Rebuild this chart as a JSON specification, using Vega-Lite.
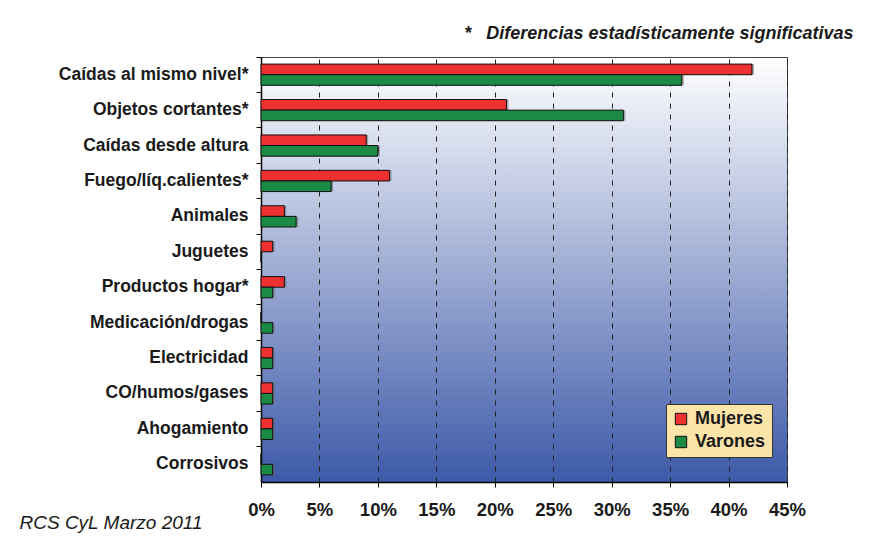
{
  "$schema": "https://vega.github.io/schema/vega-lite/v6.json",
  "autosize": {"type": "none"},
  "padding": {"left": 261, "top": 57, "right": 103, "bottom": 57},
  "width": 526,
  "height": 425,
  "background": "white",
  "title": {
    "text": "*\u00a0\u00a0\u00a0Diferencias estadísticamente significativas",
    "anchor": "end",
    "dx": 48,
    "offset": 14,
    "font": "Liberation Sans",
    "fontSize": 18,
    "fontWeight": "bold",
    "fontStyle": "italic",
    "color": "#1a1a1a"
  },
  "data": {
    "values": [
      {"cat": "Caídas al mismo nivel*", "sexo": "Mujeres", "pct": 0.42},
      {"cat": "Caídas al mismo nivel*", "sexo": "Varones", "pct": 0.36},
      {"cat": "Objetos cortantes*", "sexo": "Mujeres", "pct": 0.21},
      {"cat": "Objetos cortantes*", "sexo": "Varones", "pct": 0.31},
      {"cat": "Caídas desde altura", "sexo": "Mujeres", "pct": 0.09},
      {"cat": "Caídas desde altura", "sexo": "Varones", "pct": 0.10},
      {"cat": "Fuego/líq.calientes*", "sexo": "Mujeres", "pct": 0.11},
      {"cat": "Fuego/líq.calientes*", "sexo": "Varones", "pct": 0.06},
      {"cat": "Animales", "sexo": "Mujeres", "pct": 0.02},
      {"cat": "Animales", "sexo": "Varones", "pct": 0.03},
      {"cat": "Juguetes", "sexo": "Mujeres", "pct": 0.01},
      {"cat": "Juguetes", "sexo": "Varones", "pct": 0.0},
      {"cat": "Productos hogar*", "sexo": "Mujeres", "pct": 0.02},
      {"cat": "Productos hogar*", "sexo": "Varones", "pct": 0.01},
      {"cat": "Medicación/drogas", "sexo": "Mujeres", "pct": 0.0},
      {"cat": "Medicación/drogas", "sexo": "Varones", "pct": 0.01},
      {"cat": "Electricidad", "sexo": "Mujeres", "pct": 0.01},
      {"cat": "Electricidad", "sexo": "Varones", "pct": 0.01},
      {"cat": "CO/humos/gases", "sexo": "Mujeres", "pct": 0.01},
      {"cat": "CO/humos/gases", "sexo": "Varones", "pct": 0.01},
      {"cat": "Ahogamiento", "sexo": "Mujeres", "pct": 0.01},
      {"cat": "Ahogamiento", "sexo": "Varones", "pct": 0.01},
      {"cat": "Corrosivos", "sexo": "Mujeres", "pct": 0.0},
      {"cat": "Corrosivos", "sexo": "Varones", "pct": 0.01}
    ]
  },
  "encoding": {
    "y": {
      "field": "cat",
      "type": "nominal",
      "sort": null,
      "scale": {"paddingInner": 0, "paddingOuter": 0},
      "axis": {
        "title": null,
        "bandPosition": 0,
        "labelFont": "Liberation Sans",
        "labelFontSize": 17.5,
        "labelFontWeight": "bold",
        "labelColor": "#1a1a1a",
        "labelLimit": 0,
        "labelPadding": 8,
        "tickSize": 5,
        "tickColor": "#000",
        "domainColor": "#000",
        "domainWidth": 1.5,
        "grid": false
      }
    },
    "yOffset": {
      "field": "sexo",
      "type": "nominal",
      "scale": {"domain": ["Mujeres", "Varones"], "paddingInner": 0, "paddingOuter": 0.67}
    },
    "x": {
      "field": "pct",
      "type": "quantitative",
      "scale": {"domain": [0, 0.45], "nice": false},
      "axis": {
        "title": "RCS CyL Marzo 2011",
        "titleFont": "Liberation Sans",
        "titleFontSize": 19,
        "titleFontWeight": "normal",
        "titleFontStyle": "italic",
        "titleColor": "#1a1a1a",
        "titleAnchor": "start",
        "titleAlign": "left",
        "titleBaseline": "alphabetic",
        "titleX": -242,
        "titleY": 46,
        "format": ".0%",
        "values": [0, 0.05, 0.1, 0.15, 0.2, 0.25, 0.3, 0.35, 0.4, 0.45],
        "labelFlush": false,
        "labelFont": "Liberation Sans",
        "labelFontSize": 18.5,
        "labelFontWeight": "bold",
        "labelColor": "#1a1a1a",
        "labelPadding": 13,
        "tickSize": 5,
        "tickColor": "#000",
        "domainColor": "#000",
        "domainWidth": 1.5,
        "grid": true,
        "gridColor": "#222",
        "gridDash": [5, 6],
        "gridWidth": 1
      }
    }
  },
  "layer": [
    {
      "mark": {"type": "bar", "color": "#6a6a6a", "opacity": 0.55, "xOffset": 2, "yOffset": 2}
    },
    {
      "mark": {"type": "bar", "stroke": "#111", "strokeWidth": 1},
      "encoding": {
        "color": {
          "field": "sexo",
          "type": "nominal",
          "scale": {"domain": ["Mujeres", "Varones"], "range": ["#ee3030", "#1b8a45"]},
          "legend": {
            "title": null,
            "orient": "none",
            "legendX": 405,
            "legendY": 347,
            "padding": 6,
            "fillColor": "#fde4a8",
            "strokeColor": "#333",
            "symbolType": "square",
            "symbolSize": 130,
            "symbolStrokeColor": "#111",
            "symbolStrokeWidth": 1,
            "symbolOpacity": 1,
            "labelFont": "Liberation Sans",
            "labelFontSize": 18,
            "labelFontWeight": "bold",
            "labelColor": "#1a1a1a",
            "rowPadding": 5,
            "labelOffset": 5
          }
        }
      }
    }
  ],
  "config": {
    "view": {
      "stroke": "#444",
      "fill": {
        "gradient": "linear",
        "x1": 0, "y1": 0, "x2": 0, "y2": 1,
        "stops": [
          {"offset": 0, "color": "#ffffff"},
          {"offset": 1, "color": "#3d5aa9"}
        ]
      }
    }
  }
}
